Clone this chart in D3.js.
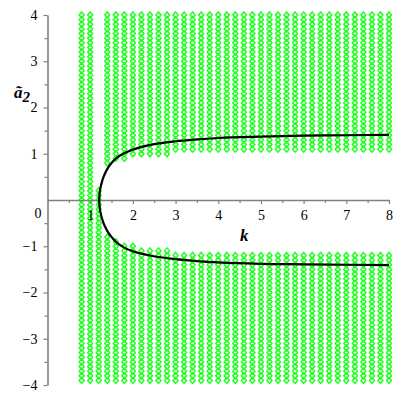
<!DOCTYPE html>
<html>
<head>
<meta charset="utf-8">
<script src="https://cdn.jsdelivr.net/npm/d3@7"></script>
<style>
  body { margin: 0; background: #fff; }
  svg { display: block; }
  .axis path, .axis line { stroke: #808080; }
</style>
</head>
<body>
<svg id="viewer" width="400" height="400"></svg>
<script>
// sampling columns (k) and rows (a2) of the green region
var kCols = [0.8, 1.0, 1.2, 1.4, 1.6, 1.8, 2.0, 2.2, 2.4, 2.6, 2.8, 3.0, 3.2, 3.4, 3.6, 3.8,
    4.0, 4.2, 4.4, 4.6, 4.8, 5.0, 5.2, 5.4, 5.6, 5.8, 6.0, 6.2, 6.4, 6.6, 6.8, 7.0, 7.2,
    7.4, 7.6, 7.8, 8.0];
// per column: points with a2 <= lowTop, and points with a2 >= highBottom
var lowTop = [4, 4, 0.2, -0.8, -0.9, -1.0, -1.0, -1.1, -1.1, -1.1, -1.1, -1.2, -1.2, -1.2,
    -1.2, -1.2, -1.2, -1.2, -1.2, -1.2, -1.2, -1.2, -1.2, -1.2, -1.2, -1.2, -1.2, -1.2,
    -1.2, -1.2, -1.2, -1.2, -1.2, -1.2, -1.2, -1.2, -1.2];
var highBottom = [9, 9, 9, 0.8, 0.9, 0.9, 1.0, 1.0, 1.0, 1.0, 1.0, 1.1, 1.1, 1.1, 1.1, 1.1,
    1.1, 1.1, 1.1, 1.1, 1.1, 1.1, 1.1, 1.1, 1.1, 1.1, 1.1, 1.1, 1.1, 1.1, 1.1, 1.1, 1.1,
    1.1, 1.1, 1.1, 1.1];
var aRows = [-3.9, -3.8, -3.7, -3.6, -3.5, -3.4, -3.3, -3.2, -3.1, -3.0, -2.9, -2.8, -2.7,
    -2.6, -2.5, -2.4, -2.3, -2.2, -2.1, -2.0, -1.9, -1.8, -1.7, -1.6, -1.5, -1.4, -1.3, -1.2,
    -1.1, -1.0, -0.9, -0.8, -0.7, -0.6, -0.5, -0.4, -0.3, -0.2, -0.1, 0, 0.1, 0.2, 0.3, 0.4,
    0.5, 0.6, 0.7, 0.8, 0.9, 1.0, 1.1, 1.2, 1.3, 1.4, 1.5, 1.6, 1.7, 1.8, 1.9, 2.0, 2.1, 2.2,
    2.3, 2.4, 2.5, 2.6, 2.7, 2.8, 2.9, 3.0, 3.1, 3.2, 3.3, 3.4, 3.5, 3.6, 3.7, 3.8, 3.9, 4.0];

// black boundary curve
var upperK = [1.21, 1.22, 1.25, 1.29, 1.35, 1.42, 1.52, 1.65, 1.8, 2.0, 2.4, 3.0, 3.5, 4.0, 5.0, 6.0, 7.0, 8.0];
var upperA = [0, 0.15, 0.3, 0.44, 0.58, 0.7, 0.82, 0.93, 1.01, 1.09, 1.19, 1.27, 1.31, 1.34, 1.37, 1.39, 1.40, 1.41];
var lowerK = [1.21, 1.22, 1.25, 1.29, 1.35, 1.42, 1.52, 1.65, 1.8, 2.0, 2.4, 3.0, 3.5, 4.0, 5.0, 6.0, 7.0, 8.0];
var lowerA = [0, -0.15, -0.3, -0.44, -0.58, -0.7, -0.82, -0.94, -1.03, -1.11, -1.2, -1.28, -1.32, -1.35, -1.38, -1.39, -1.40, -1.41];

var xTicks = [1, 2, 3, 4, 5, 6, 7, 8];
var xMinor = [0.5, 1.5, 2.5, 3.5, 4.5, 5.5, 6.5, 7.5];
var yTicks = [-4, -3, -2, -1, 1, 2, 3, 4];
var yMinor = [-3.5, -2.5, -1.5, -0.5, 0.5, 1.5, 2.5, 3.5];

var serif = '"Liberation Serif", "DejaVu Serif", serif';

var svg = d3.select('#viewer');

var x = d3.scaleLinear().domain([0, 8]).range([47.5, 389]);
var y = d3.scaleLinear().domain([-4, 4]).range([385, 15]);

// green points
var pts = [];
kCols.forEach((k, i) => {
    aRows.forEach(a => {
        if (a <= lowTop[i] + 1e-9 || a >= highBottom[i] - 1e-9) pts.push([k, a]);
    });
});

svg.append('g')
    .selectAll('path')
    .data(pts)
    .join('path')
    .attr('transform', d => `translate(${x(d[0])} ${y(d[1])})`)
    .attr('d', 'M0,-3L2.5,0L0,3L-2.5,0Z')
    .attr('fill', 'none')
    .attr('stroke', '#22ff22')
    .attr('stroke-width', 1.5);

// axes
svg.append('g')
    .attr('class', 'axis')
    .attr('transform', `translate(0 ${y(0)})`)
    .call(d3.axisBottom(x).tickValues(xTicks).tickSize(4).tickSizeOuter(0).tickPadding(6).tickFormat(d3.format('d')));
svg.append('g')
    .attr('class', 'axis')
    .attr('transform', `translate(0 ${y(0)})`)
    .call(d3.axisBottom(x).tickValues(xMinor).tickSize(3).tickSizeOuter(0).tickFormat(''))
    .select('.domain').remove();

svg.append('g')
    .attr('class', 'axis')
    .attr('transform', `translate(${x(0)} 0)`)
    .call(d3.axisLeft(y).tickValues(yTicks).tickSize(4).tickSizeOuter(0).tickPadding(6).tickFormat(d3.format('d')));
svg.append('g')
    .attr('class', 'axis')
    .attr('transform', `translate(${x(0)} 0)`)
    .call(d3.axisLeft(y).tickValues(yMinor).tickSize(3).tickSizeOuter(0).tickFormat(''))
    .select('.domain').remove();

svg.selectAll('.axis')
    .attr('font-family', serif)
    .attr('font-size', 14);
svg.selectAll('.axis text').attr('fill', '#000');
svg.selectAll('.axis .domain').attr('stroke-width', 1.6);
svg.selectAll('.axis .tick line').attr('stroke-width', 1.2);

svg.append('text')
    .attr('x', 38).attr('y', 218)
    .attr('text-anchor', 'middle')
    .attr('font-family', serif)
    .attr('font-size', 14)
    .text('0');

// curve
var line = d3.line()
    .x(d => x(d[0]))
    .y(d => y(d[1]))
    .curve(d3.curveMonotoneX);

svg.append('path')
    .attr('d', line(upperK.map((k, i) => [k, upperA[i]])))
    .attr('fill', 'none').attr('stroke', '#000').attr('stroke-width', 2.2);
svg.append('path')
    .attr('d', line(lowerK.map((k, i) => [k, lowerA[i]])))
    .attr('fill', 'none').attr('stroke', '#000').attr('stroke-width', 2.2);

// axis titles
svg.append('text')
    .attr('x', 240).attr('y', 241)
    .attr('font-family', serif)
    .attr('font-size', 17)
    .attr('font-weight', 'bold')
    .attr('font-style', 'italic')
    .text('k');

var yt = svg.append('text')
    .attr('x', 14).attr('y', 98)
    .attr('font-family', serif)
    .attr('font-size', 17)
    .attr('font-weight', 'bold')
    .attr('font-style', 'italic')
    .text('ã');
yt.append('tspan')
    .attr('dy', 4)
    .attr('font-size', 15)
    .text('2');
</script>
</body>
</html>
